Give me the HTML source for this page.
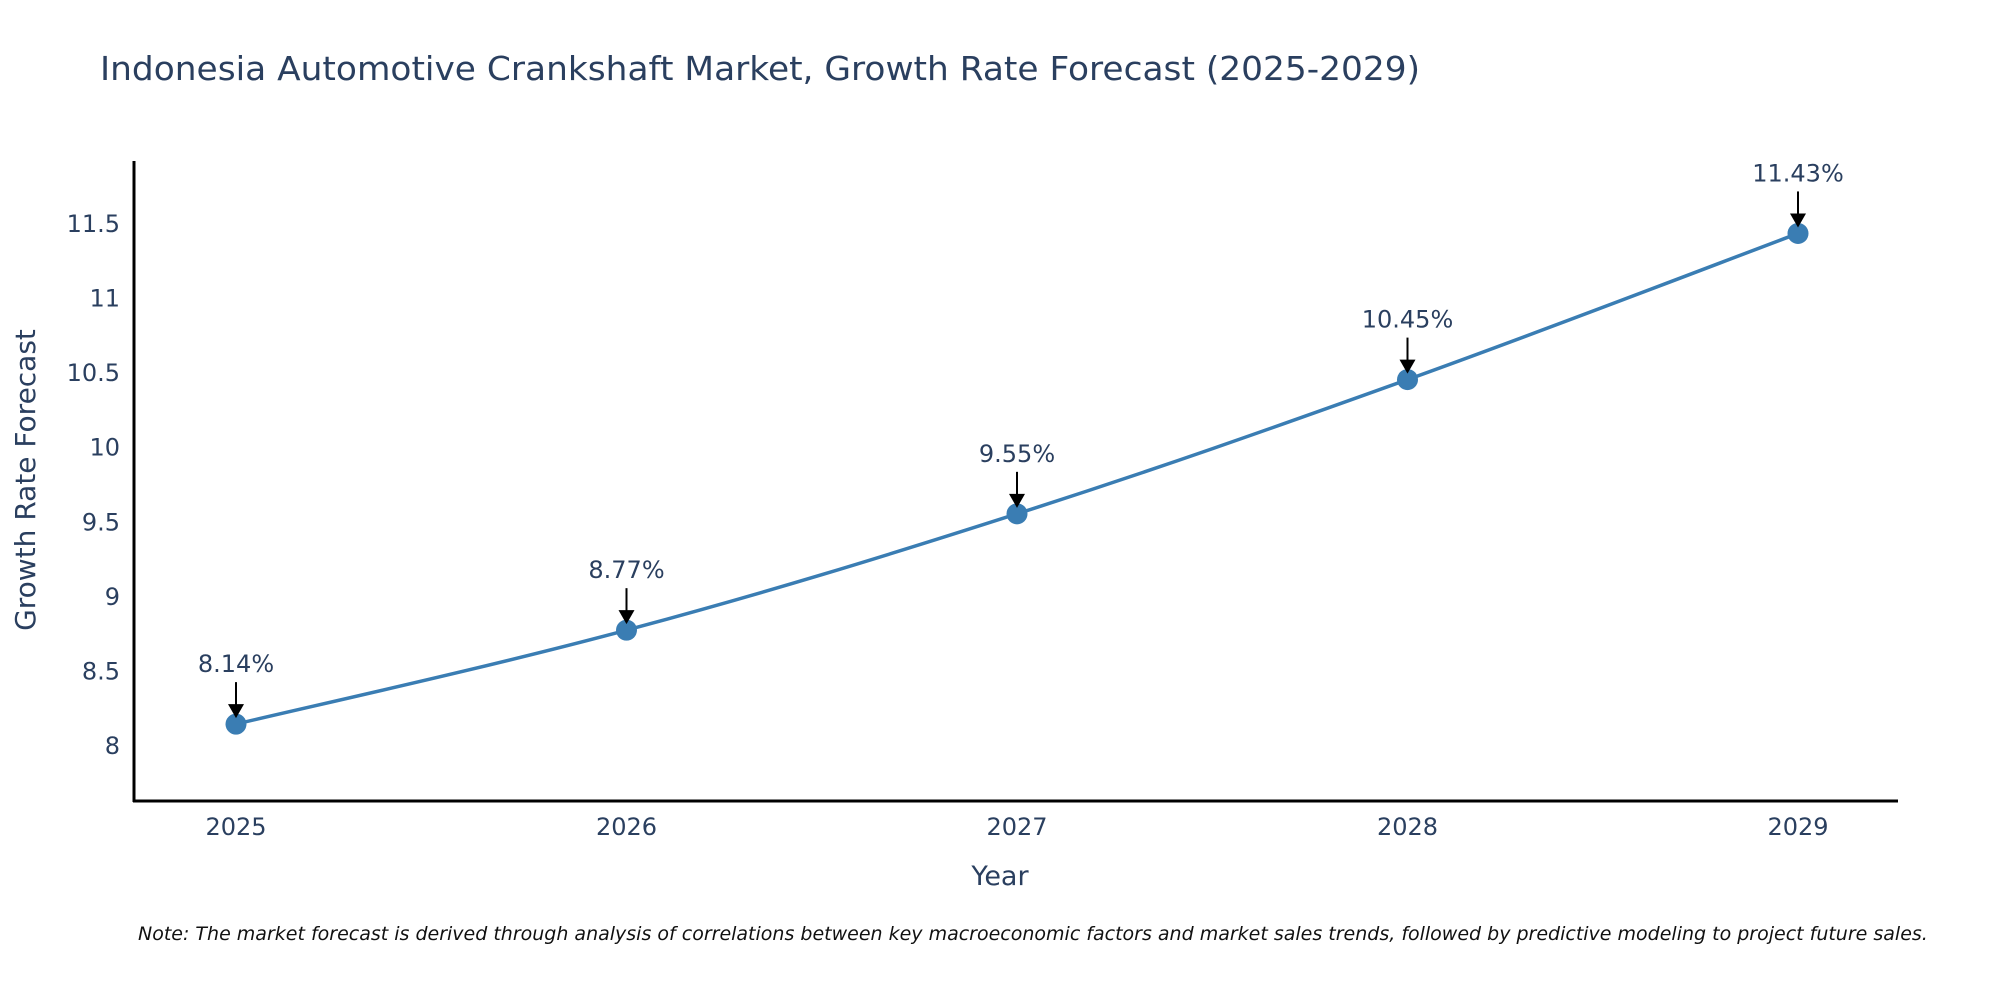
<!DOCTYPE html>
<html><head><meta charset="utf-8"><style>
body{margin:0;background:#fff}
svg text{font-family:"DejaVu Sans","Liberation Sans",sans-serif;fill:#2a3f5f}
</style></head><body>
<svg id="chart" width="2000" height="1000" xmlns="http://www.w3.org/2000/svg">
<rect width="2000" height="1000" fill="#fff"/>
<text x="100" y="80" font-size="33" textLength="1320" lengthAdjust="spacingAndGlyphs">Indonesia Automotive Crankshaft Market, Growth Rate Forecast (2025-2029)</text>
<g id="plot"></g>
<text x="1000" y="885" font-size="27" text-anchor="middle">Year</text>
<text transform="translate(35,480) rotate(-90)" font-size="28" text-anchor="middle">Growth Rate Forecast</text>
<text x="138" y="940" font-size="19" font-style="italic" style="fill:#111">Note: The market forecast is derived through analysis of correlations between key macroeconomic factors and market sales trends, followed by predictive modeling to project future sales.</text>
</svg>
<script>
const years = [2025, 2026, 2027, 2028, 2029];
const growth = [8.14, 8.77, 9.55, 10.45, 11.43];
const labels = ["8.14%", "8.77%", "9.55%", "10.45%", "11.43%"];
const yTicks = [8, 8.5, 9, 9.5, 10, 10.5, 11, 11.5];
const yTickLabels = ["8", "8.5", "9", "9.5", "10", "10.5", "11", "11.5"];

const NS = "http://www.w3.org/2000/svg";
const plot = document.getElementById("plot");
const X0 = 134, X1 = 1898, Y0 = 161, Y1 = 801;
const xs = v => 236 + (v - 2025) * (1798 - 236) / 4;
const ys = v => 745 - (v - 8) * (745 - 223) / 3.5;
function mk(tag, attrs){const e=document.createElementNS(NS,tag);for(const k in attrs)e.setAttribute(k,attrs[k]);plot.appendChild(e);return e;}

let a = mk("line",{x1:X0,y1:Y0,x2:X0,y2:Y1+1,stroke:"#000","stroke-width":3});


a = mk("line",{x1:X0-1,y1:Y1,x2:X1,y2:Y1,stroke:"#000","stroke-width":3});



yTicks.forEach((t,i)=>{
  const e = mk("text",{x:X0-14,y:ys(t)+9,"font-size":24,"text-anchor":"end"});
  e.textContent = yTickLabels[i];
  
  
});
years.forEach(y=>{
  const e = mk("text",{x:xs(y),y:835,"font-size":24,"text-anchor":"middle"});
  e.textContent = String(y);
  
  
});

const pts = years.map((y,i)=>[xs(y), ys(growth[i])]);
let d = "M"+pts[0][0]+","+pts[0][1];
const s = 0.18;
for(let i=0;i<pts.length-1;i++){
  const p0=pts[Math.max(0,i-1)], p1=pts[i], p2=pts[i+1], p3=pts[Math.min(pts.length-1,i+2)];
  const c1=[p1[0]+(p2[0]-p0[0])*s, p1[1]+(p2[1]-p0[1])*s];
  const c2=[p2[0]-(p3[0]-p1[0])*s, p2[1]-(p3[1]-p1[1])*s];
  d += " C"+c1.join(",")+" "+c2.join(",")+" "+p2.join(",");
}
const line = mk("path",{d:d,fill:"none",stroke:"#3a7db3","stroke-width":3.5});



pts.forEach((p,i)=>{
  const c = mk("circle",{cx:p[0],cy:p[1],r:10.5,fill:"#3a7db3"});
  
  
  const ar = mk("line",{x1:p[0],y1:p[1]-42,x2:p[0],y2:p[1]-18,stroke:"#000","stroke-width":2});
  
  
  const hd = mk("polygon",{points:(p[0]-8)+","+(p[1]-20)+" "+(p[0]+8)+","+(p[1]-20)+" "+p[0]+","+(p[1]-6),fill:"#000"});
  
  
  const t = mk("text",{x:p[0],y:p[1]-52,"font-size":24,"text-anchor":"middle"});
  t.textContent = labels[i];
  
  
});
</script>
</body></html>
